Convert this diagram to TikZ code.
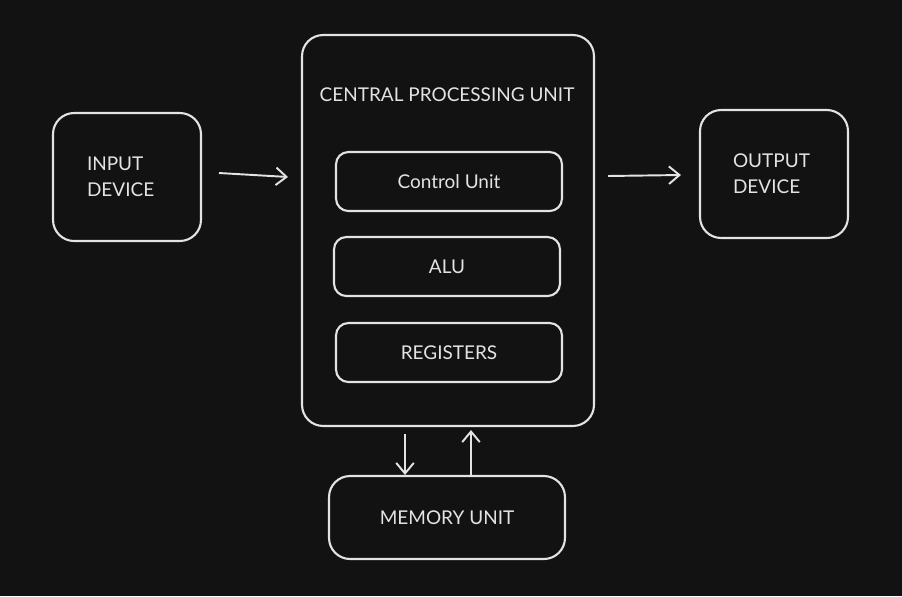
\documentclass[tikz,border=0pt]{standalone}
\usepackage{fontspec}
\setmainfont{Lato}
\usetikzlibrary{positioning,arrows.meta}
\definecolor{bg}{HTML}{121212}
\definecolor{ink}{HTML}{E3E3E3}

\begin{document}
\begin{tikzpicture}[x=0.02cm,y=-0.02cm,
    box/.style={draw=ink,line width=1.2pt,rounded corners=12pt,text=ink,font=\fontsize{10.8}{15}\selectfont},
    part/.style={box,rounded corners=7pt,minimum width=4.52cm,minimum height=1.18cm},
    flow/.style={draw=ink,line width=1.1pt,-{Straight Barb[length=6pt,width=10pt]}}]
        \fill[bg] (0,0) rectangle (902,596);
        \begin{scope}
            \node[box,minimum width=5.84cm,minimum height=7.82cm] (cpu) at (448,230.5) {};
            \node[text=ink,font=\fontsize{10.8}{15}\selectfont] (title) at (447,95) {CENTRAL PROCESSING UNIT};

            \node[part] (cu) at (449,181.5) {Control Unit};
            \node[part] (alu) at (447,266.5) {ALU};
            \node[part] (reg) at (449,352.5) {REGISTERS};

            \node[box,minimum width=2.96cm,minimum height=2.56cm,align=left,text width=1.6cm] (in) at (127,177) {INPUT\\DEVICE};
            \node[box,minimum width=2.96cm,minimum height=2.56cm,align=left,text width=1.64cm] (out) at (774,174) {OUTPUT\\DEVICE};

            \node[box,minimum width=4.72cm,minimum height=1.66cm] (mem) at (447,517.5) {MEMORY UNIT};
        \end{scope}
        \coordinate (a1) at (219,173);
        \coordinate (a2) at (288,177);
        \coordinate (b1) at (608,176);
        \coordinate (b2) at (681,175);
        \coordinate (c1) at (405,434);
        \coordinate (d1) at (471,430);
        \begin{scope}
            \path[flow] (a1) -- (a2);
            \path[flow] (b1) -- (b2);
            \path[flow] (c1) -- (c1 |- mem.north);
            \path[flow] (d1 |- mem.north) -- (d1);
        \end{scope}
    \end{tikzpicture}
\end{document}
